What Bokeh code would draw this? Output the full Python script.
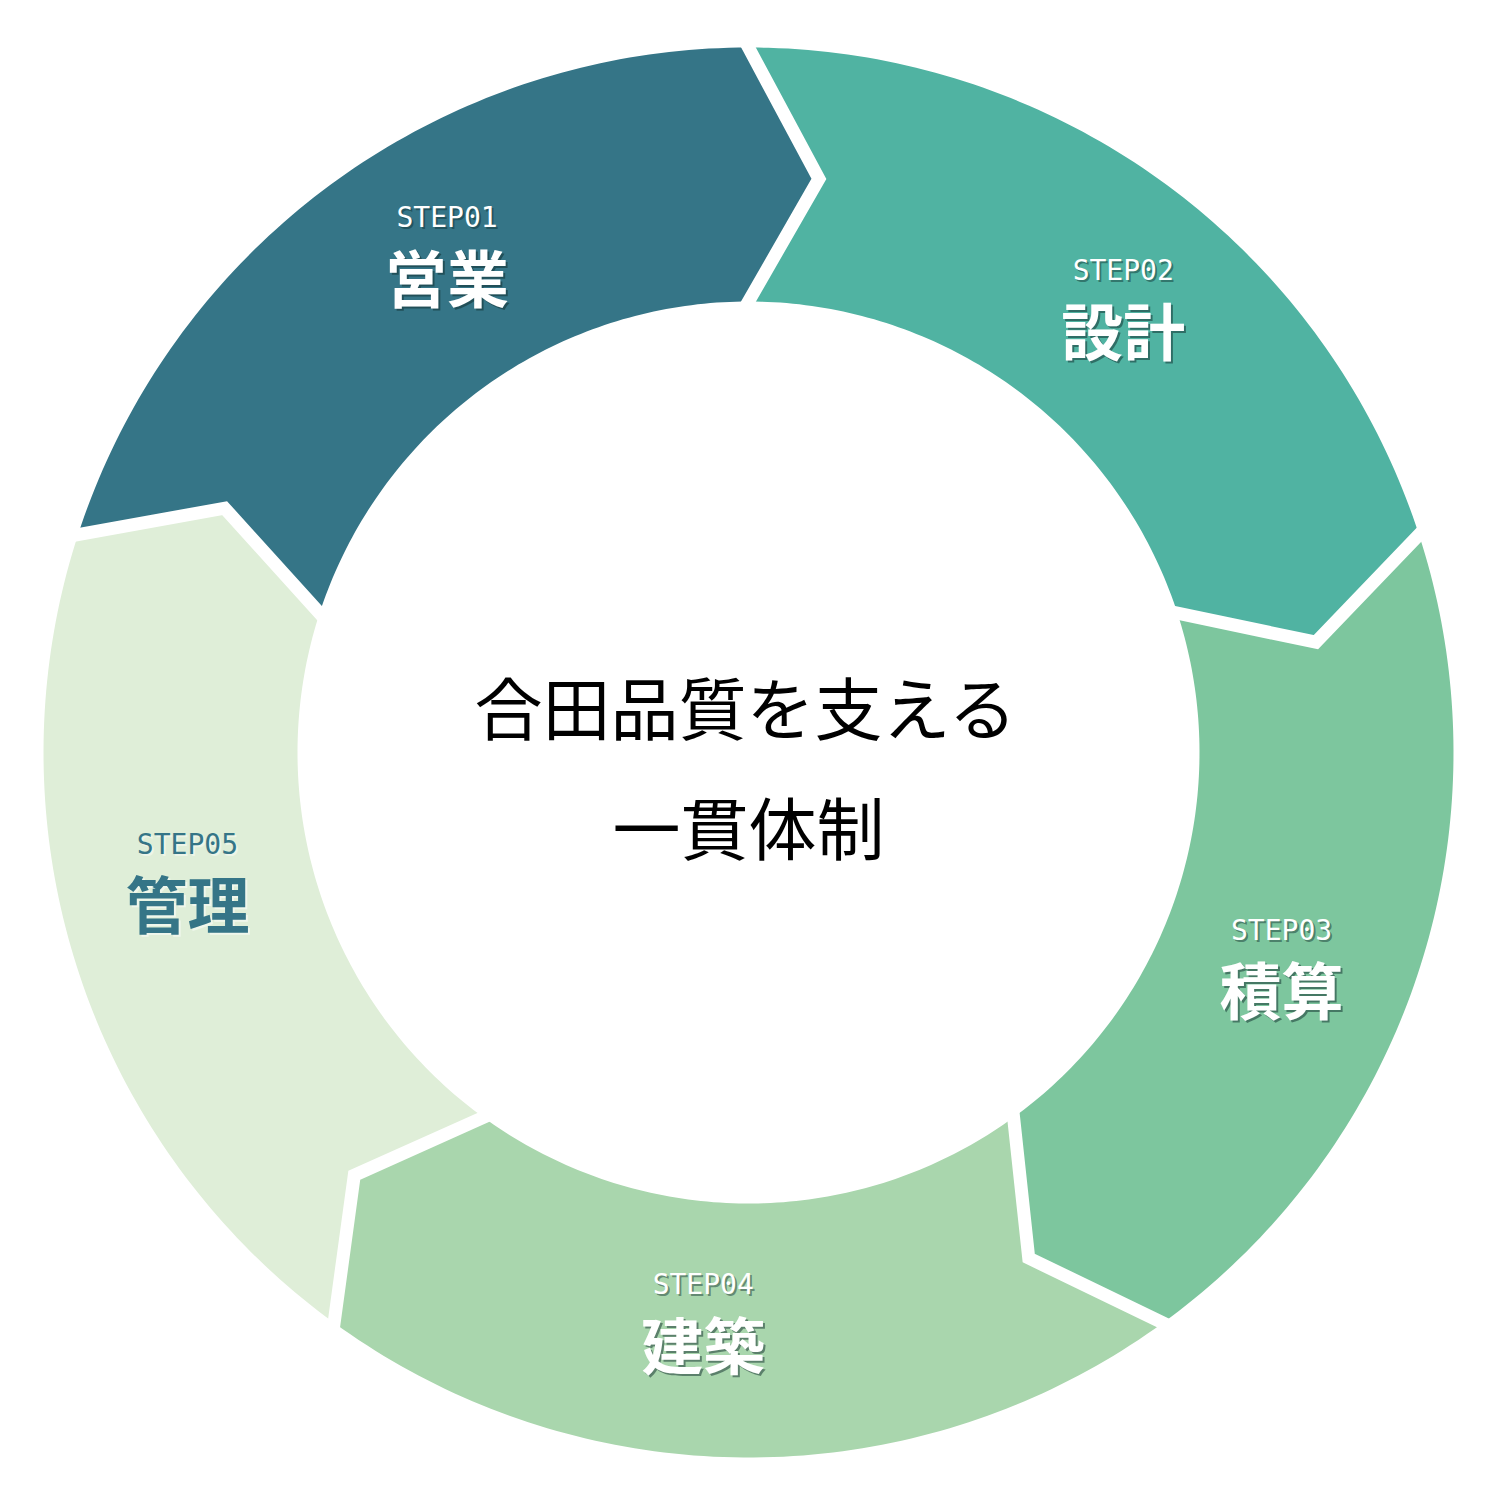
import numpy as np
from bokeh.plotting import figure
from bokeh.models import ColumnDataSource, Range1d
from bokeh.core.properties import value
from bokeh.embed import file_html
from bokeh.resources import INLINE

# data
steps = ["STEP01", "STEP02", "STEP03", "STEP04", "STEP05"]
names = ["営業", "設計", "積算", "建築", "管理"]
colors = ["#357587", "#50b3a2", "#7dc69e", "#a9d6ad", "#dfeed8"]
label_colors = ["white", "white", "white", "white", "#357587"]
shadow_colors = ["#0d2a2a", "#0d2a2a", "#0d2a2a", "#0d2a2a", "white"]
center_lines = ["合田品質を支える", "一貫体制"]

W, H = 1492, 1498
cx, cy = 748, 752
r_out, r_in = 705, 451
r_mid = (r_out + r_in) / 2
tip = 7        # how far (deg) each arrow pokes into the next step
gap = 13       # white gap width in px
span = 360 / len(steps)
start = -span  # STEP01 ends straight up


def pt(r, deg):
    t = np.radians(deg)
    return cx + r * np.sin(t), cy - r * np.cos(t)


## segments
xs, ys = [], []
for i in range(len(steps)):
    a0 = start + i * span
    a1 = a0 + span
    arc = np.linspace(a0, a1, 90)
    ox, oy = pt(r_out, arc)
    ix, iy = pt(r_in, arc[::-1])
    tx, ty = pt(r_mid, a1 + tip)
    nx, ny = pt(r_mid, a0 + tip)
    xs.append(list(ox) + [tx] + list(ix) + [nx])
    ys.append(list(oy) + [ty] + list(iy) + [ny])

# white chevron gaps between the steps
gx, gy = [], []
for i in range(len(steps)):
    b = start + i * span
    o = np.array(pt(r_out, b))
    t = np.array(pt(r_mid, b + tip))
    n = np.array(pt(r_in, b))
    o2 = o + (o - t) * 0.08
    n2 = n + (n - t) * 0.08
    gx.append([o2[0], o[0], t[0], n[0], n2[0]])
    gy.append([o2[1], o[1], t[1], n[1], n2[1]])

## labels
lab_x, lab_y = [], []
for i in range(len(steps)):
    mid = start + i * span + span / 2 + 4.5
    x, y = pt(577, mid)
    lab_x.append(x)
    lab_y.append(y - 12)

lab = ColumnDataSource(dict(
    x=lab_x,
    step_y=[y - 31 for y in lab_y],
    name_y=[y + 27 for y in lab_y],
    sx=[x + 2 for x in lab_x],
    step_sy=[y - 29 for y in lab_y],
    name_sy=[y + 29 for y in lab_y],
    step=steps, name=names, color=label_colors, shadow=shadow_colors,
))

p = figure(width=W, height=H, x_range=Range1d(0, W), y_range=Range1d(H, 0),
           output_backend="svg", toolbar_location=None, min_border=0)
p.axis.visible = False
p.grid.visible = False
p.outline_line_color = None
p.background_fill_color = "white"

p.patches(xs, ys, fill_color=colors, line_color=None)
p.multi_line(gx, gy, line_color="white", line_width=gap, line_join="miter")

# shadows first
p.text(x="sx", y="step_sy", text="step", source=lab, text_color="shadow", text_alpha=0.45,
       text_font=value("DejaVu Sans Mono"), text_font_size="28px",
       text_align="center", text_baseline="middle")
p.text(x="sx", y="name_sy", text="name", source=lab, text_color="shadow", text_alpha=0.5,
       text_font=value("Noto Sans CJK JP"), text_font_style="bold", text_font_size="62px",
       text_align="center", text_baseline="middle")

p.text(x="x", y="step_y", text="step", source=lab, text_color="color",
       text_font=value("DejaVu Sans Mono"), text_font_size="28px",
       text_align="center", text_baseline="middle")
p.text(x="x", y="name_y", text="name", source=lab, text_color="color",
       text_font=value("Noto Sans CJK JP"), text_font_style="bold", text_font_size="62px",
       text_align="center", text_baseline="middle")

# center title
p.text(x=[cx - 2, cx], y=[cy - 47, cy + 73], text=center_lines, text_color="black",
       text_font=value("Noto Sans CJK JP"), text_font_size="68px",
       text_align="center", text_baseline="middle")

open("out.html", "w").write(file_html(p, INLINE))
